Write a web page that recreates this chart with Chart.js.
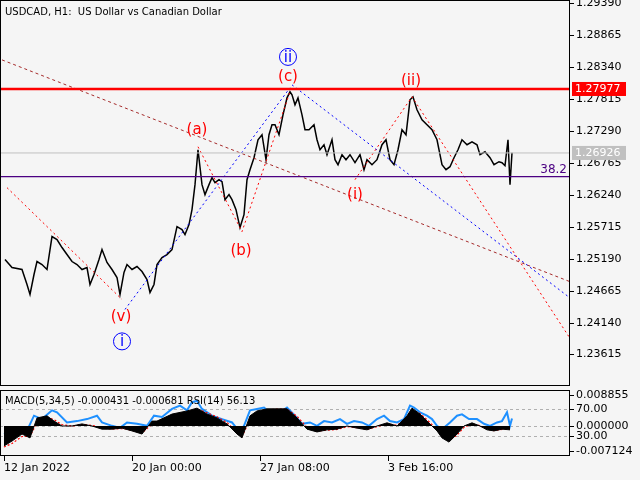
<!DOCTYPE html>
<html><head><meta charset="utf-8">
<script src="https://cdn.jsdelivr.net/npm/chart.js@4/dist/chart.umd.min.js"></script>
<style>
html,body{margin:0;padding:0;background:#f5f5f5;width:640px;height:480px;overflow:hidden}
#c1{position:absolute;left:0;top:0}
#c2{position:absolute;left:0;top:388px}
</style></head><body>
<canvas id="c1" width="640" height="386"></canvas>
<canvas id="c2" width="640" height="92"></canvas>
<script>
// hour index (1 px = 1 bar) and close prices
const hours=[3,10,20,25,28,32,35,40,45,50,55,60,65,70,75,80,85,88,92,97,100,105,110,115,118,122,125,130,135,140,145,148,152,155,160,165,170,175,180,183,187,190,193,196,200,203,207,210,213,217,220,223,227,230,234,238,242,245,248,252,256,260,264,267,270,273,277,281,285,288,290,293,296,300,303,307,312,315,318,322,325,330,333,336,340,344,348,353,358,362,365,370,375,380,384,388,392,396,400,404,408,411,415,420,425,430,435,440,444,448,452,456,460,465,470,475,478,483,488,492,497,500,503,506,508,510];
const prices=[1.25175,1.25044,1.25011,1.24765,1.24601,1.24929,1.25142,1.25093,1.25011,1.25552,1.25503,1.25372,1.25257,1.25142,1.25093,1.25011,1.25044,1.24765,1.24929,1.25175,1.25339,1.25126,1.25011,1.24880,1.24601,1.24962,1.25093,1.25011,1.25060,1.24978,1.24847,1.24634,1.24765,1.25093,1.25208,1.25257,1.25339,1.25716,1.25667,1.25585,1.25749,1.25995,1.26405,1.26979,1.26405,1.26241,1.26405,1.26520,1.26438,1.26487,1.26454,1.26159,1.26241,1.26159,1.25995,1.25700,1.25913,1.26487,1.26651,1.26848,1.27143,1.27225,1.26815,1.27225,1.27389,1.27389,1.27225,1.27553,1.27831,1.27930,1.27881,1.27717,1.27831,1.27553,1.27307,1.27307,1.27389,1.27143,1.26979,1.27061,1.26897,1.27143,1.26815,1.26733,1.26897,1.26815,1.26897,1.26766,1.26897,1.26651,1.26815,1.26733,1.26815,1.27061,1.27143,1.26815,1.26733,1.26979,1.27307,1.27225,1.27799,1.27848,1.27635,1.27471,1.27389,1.27307,1.27143,1.26733,1.26651,1.26700,1.26848,1.26979,1.27143,1.27061,1.27110,1.27061,1.26897,1.26946,1.26848,1.26733,1.26782,1.26766,1.26717,1.27143,1.26405,1.26930];
const priceTicks=[1.23615,1.24140,1.24665,1.25190,1.25715,1.26240,1.26765,1.27290,1.27815,1.28340,1.28865,1.29390];
const resistance=1.27977, lastPrice=1.26926, fibLevel=1.26536;
// wave lines [hour, price]
const brownLine=[[0,1.28455],[570,1.24798]];
const redWave1=[[5,1.26356],[120,1.24519]];
const redWave2=[[196,1.27028],[240,1.25634],[288,1.27930]];
const redWave3=[[353,1.26487],[410,1.27849],[570,1.23830]];
const blueWave1=[[123,1.24355],[288,1.27996]];
const blueWave2=[[290,1.28045],[570,1.24519]];
const waveLabels=[["(a)",195,1.27307],["(b)",239,1.25306],["(c)",286,1.28176],["(v)",119,1.24224],["(ii)",409,1.28111],["(i)",353,1.26241]];
const circleLabels=[["ii",286,1.28504],["i",120,1.23830]];
// indicator panel
const indHours=[2,10,20,28,35,45,52,60,70,80,90,100,110,120,130,140,150,155,170,185,195,205,215,225,235,240,248,255,265,275,285,295,305,315,325,335,345,355,365,375,385,395,405,410,418,425,435,440,447,455,462,470,478,485,492,500,508];
const macd=[-0.0057,-0.0043,-0.0023,-0.0034,0.0023,0.0029,0.0014,0,0,0.0006,0,-0.0009,-0.0009,-0.0006,-0.0014,-0.0023,0.0014,0.0014,0.0034,0.0043,0.0051,0.0034,0.0023,0.0006,-0.0023,-0.0034,0.0029,0.0043,0.0049,0.0049,0.0049,0.0023,-0.0009,-0.0017,-0.0011,-0.0009,0,-0.0006,-0.0011,0,0.0009,0,0.0029,0.0051,0.0034,0.0014,-0.0014,-0.0034,-0.0046,-0.0023,0,0.0009,0,-0.0011,-0.0014,-0.0009,-0.0011];
const signal=[-0.0060,-0.0050,-0.0030,-0.0030,0.0010,0.0025,0.0018,0.0004,0,0.0004,0.0002,-0.0006,-0.0009,-0.0007,-0.0012,-0.0020,0.0005,0.0012,0.0030,0.0040,0.0048,0.0038,0.0026,0.0010,-0.0018,-0.0030,0.0018,0.0038,0.0046,0.0048,0.0048,0.0028,-0.0004,-0.0014,-0.0012,-0.0010,-0.0002,-0.0005,-0.0010,-0.0002,0.0006,0.0002,0.0024,0.0046,0.0036,0.0018,-0.0010,-0.0030,-0.0042,-0.0026,-0.0004,0.0006,0.0001,-0.0009,-0.0013,-0.0010,-0.0010];
const rsiHours=[2,15,25,32,40,50,55,65,75,85,95,100,110,118,125,135,145,152,160,170,178,185,190,195,200,210,220,230,238,242,248,255,262,270,278,285,293,300,308,315,322,330,338,345,352,360,367,375,382,388,395,402,408,412,418,425,430,435,440,448,455,460,467,475,482,488,495,500,505,508,510];
const rsi=[33,40,38,60,55,68,65,50,52,55,60,50,45,42,50,48,45,60,58,70,75,68,80,82,70,60,55,50,35,45,68,70,72,62,65,72,60,48,50,45,52,50,55,48,52,50,45,55,60,52,50,55,75,72,65,60,55,45,40,50,60,62,55,55,48,45,50,52,65,45,56];
const macdTicks=[-0.007124,0,0.008855];
const rsiTicks=[70,30];
const dateTicks=[2,130,258,386];
const dateLabels=["12 Jan 2022","20 Jan 00:00","27 Jan 08:00","3 Feb 16:00"];

const FONT='"DejaVu Sans"';
const pts=(a)=>a.map(p=>({x:p[0],y:p[1]}));
const zip=(xs,ys)=>xs.map((x,i)=>({x,y:ys[i]}));
function line(data,color,dash,w){return {type:'line',data:pts(data),borderColor:color,borderWidth:w||1,borderDash:dash||[],pointRadius:0,fill:false,tension:0};}

const frame={id:'frame',afterDraw(c){const a=c.chartArea,x=c.ctx;x.save();x.strokeStyle='#000';x.lineWidth=1;x.strokeRect(Math.round(a.left)+0.5,Math.round(a.top)+0.5,Math.round(a.right-a.left)-1,Math.round(a.bottom-a.top)-1);x.restore();}};
function axisLabels(c,scale,vals,fmt){const x=c.ctx,a=c.chartArea;x.save();x.font='11px '+FONT;x.fillStyle='#000';x.textAlign='left';x.textBaseline='middle';
 vals.forEach(v=>{const py=Math.round(scale.getPixelForValue(v));x.fillRect(a.right,py,4,1);x.fillText(fmt(v),a.right+6,py+0.5);});x.restore();}

const mainDeco={id:'mainDeco',afterDatasetsDraw(c){
 const x=c.ctx,ys=c.scales.y,xs=c.scales.x,a=c.chartArea;
 axisLabels(c,ys,priceTicks,v=>v.toFixed(5));
 x.save();
 x.font='10px '+FONT;x.fillStyle='#000';x.textBaseline='middle';x.textAlign='left';
 x.fillText('USDCAD, H1:  US Dollar vs Canadian Dollar',5,12);
 x.font='15px '+FONT;x.textAlign='center';
 waveLabels.forEach(l=>{x.fillStyle='#ff0000';x.fillText(l[0],xs.getPixelForValue(l[1]),ys.getPixelForValue(l[2]));});
 circleLabels.forEach(l=>{const px=xs.getPixelForValue(l[1]),py=ys.getPixelForValue(l[2]);x.strokeStyle='#0000ff';x.lineWidth=1;x.beginPath();x.arc(px,py,8.5,0,Math.PI*2);x.stroke();x.fillStyle='#0000ff';x.fillText(l[0],px,py+1);});
 x.font='12px '+FONT;x.fillStyle='#4b0082';x.textAlign='right';x.textBaseline='bottom';
 x.fillText('38.2',a.right-3,ys.getPixelForValue(fibLevel)-1);
 x.font='11px '+FONT;x.textAlign='left';x.textBaseline='middle';
 [[resistance,'#ff0000','#fff'],[lastPrice,'#c0c0c0','#fff']].forEach(b=>{const py=ys.getPixelForValue(b[0]);x.fillStyle=b[1];x.fillRect(a.right+2,py-7,54,14);x.fillStyle=b[2];x.fillText(b[0].toFixed(5),a.right+5,py+0.5);});
 x.restore();}};

new Chart(document.getElementById('c1'),{
 data:{datasets:[
  line([[-2,lastPrice],[568,lastPrice]],'#c0c0c0'),
  line([[-2,fibLevel],[568,fibLevel]],'#4b0082',[],1.3),
  line([[-2,resistance],[568,resistance]],'#ff0000',[],2.5),
  line(brownLine,'#a52a2a',[3,3]),
  line(redWave1,'#ff0000',[2,3]),line(redWave2,'#ff0000',[2,3]),line(redWave3,'#ff0000',[2,3]),
  line(blueWave1,'#0000ff',[2,3]),line(blueWave2,'#0000ff',[2,3]),
  {type:'line',data:zip(hours,prices),borderColor:'#000',borderWidth:1.5,pointRadius:0,tension:0}
 ]},
 options:{responsive:false,animation:false,events:[],layout:{padding:0},
  plugins:{legend:{display:false},tooltip:{enabled:false}},
  scales:{
   x:{type:'linear',min:-2,max:568,display:false},
   y:{type:'linear',position:'right',min:1.23097,max:1.29439,
     afterFit(s){s.width=70;},border:{display:false},
     grid:{display:false},ticks:{display:false}}
  }},
 plugins:[frame,mainDeco]
});

const indDeco={id:'indDeco',beforeDatasetsDraw(c){
 const x=c.ctx,r=c.scales.rsi,a=c.chartArea,m=c.scales.y;x.save();x.strokeStyle='#b0b0b0';x.setLineDash([3,3]);x.lineWidth=1;
 [r.getPixelForValue(70),m.getPixelForValue(0),r.getPixelForValue(30)].forEach(py=>{py=Math.round(py)+0.5;x.beginPath();x.moveTo(a.left,py);x.lineTo(a.right,py);x.stroke();});
 x.restore();},
 afterDatasetsDraw(c){const x=c.ctx,r=c.scales.rsi,a=c.chartArea;
 axisLabels(c,c.scales.y,macdTicks,v=>v.toFixed(6));
 axisLabels(c,r,rsiTicks,v=>v.toFixed(2));
 x.save();x.font='10px '+FONT;x.fillStyle='#000';x.textBaseline='middle';x.textAlign='left';
 x.fillText('MACD(5,34,5) -0.000431 -0.000681 RSI(14) 56.13',5,a.top+11);
 x.restore();}};

new Chart(document.getElementById('c2'),{
 data:{datasets:[
  {type:'line',data:zip(indHours,macd),borderColor:'#000',backgroundColor:'#000',borderWidth:1,pointRadius:0,fill:'origin',yAxisID:'y'},
  {type:'line',data:zip(indHours,signal),borderColor:'#ff0000',borderDash:[2,2],borderWidth:1.2,pointRadius:0,yAxisID:'y'},
  {type:'line',data:zip(rsiHours,rsi),borderColor:'#1e90ff',borderWidth:2,pointRadius:0,yAxisID:'rsi'}
 ]},
 options:{responsive:false,animation:false,events:[],layout:{padding:{top:2}},
  plugins:{legend:{display:false},tooltip:{enabled:false}},
  scales:{
   x:{type:'linear',min:-2,max:568,afterFit(s){s.height=24;},
     afterBuildTicks(s){s.ticks=dateTicks.map(v=>({value:v}));},
     border:{display:false},
     grid:{drawOnChartArea:false,drawTicks:true,tickLength:5,color:'#000'},
     ticks:{align:'start',padding:1,maxRotation:0,autoSkip:false,color:'#000',font:{family:FONT,size:11},callback:(v)=>dateLabels[dateTicks.indexOf(v)]}},
   y:{type:'linear',position:'right',min:-0.00857,max:0.01028,
     afterFit(s){s.width=70;},border:{display:false},grid:{display:false},ticks:{display:false}},
   rsi:{type:'linear',axis:'y',display:false,min:0.4,max:98}
  }},
 plugins:[frame,indDeco]
});
</script></body></html>
